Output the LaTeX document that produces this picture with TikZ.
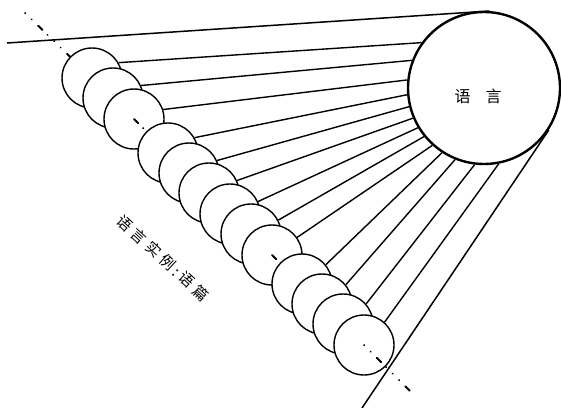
\documentclass[tikz,border=0pt]{standalone}
\usepackage{fontspec}
\newfontfamily\cjk{Noto Sans CJK SC}
\tikzset{
  circulo/.style={circle,draw=black,fill=white,line width=1.4pt,inner sep=0pt,minimum size=60pt},
  lengua/.style={circle,draw=black,fill=white,line width=2.4pt,inner sep=0pt,minimum size=152pt},
  rayo/.style={draw=black,line width=1.4pt},
  tangente/.style={draw=black,line width=1.5pt},
  eje/.style={draw=black,line width=2pt,line cap=round,dash pattern=on 6pt off 7pt on 0.1pt off 9pt on 0.1pt off 9pt on 0.1pt off 9pt,dash phase=22pt},
  rotulo/.style={font=\cjk\fontsize{15}{17}\selectfont,inner sep=0pt},
}
\begin{document}
\begin{tikzpicture}[x=1pt,y=-1pt]
\useasboundingbox (0,0) rectangle (561,407);
\coordinate (e1) at (25,13);
\coordinate (e2) at (410,391);
\coordinate (t1) at (7,43);
\coordinate (t2) at (362,408);
\coordinate (p1) at (92,78);
\coordinate (p2) at (113,98);
\coordinate (p3) at (134,119);
\coordinate (p4) at (168,153);
\coordinate (p5) at (189,173);
\coordinate (p6) at (209,193);
\coordinate (p7) at (230,214);
\coordinate (p8) at (251,234);
\coordinate (p9) at (272,255);
\coordinate (p10) at (302,284);
\coordinate (p11) at (322,304);
\coordinate (p12) at (343,324);
\coordinate (p13) at (364,345);
% la lengua
\node[lengua] (len) at (484,88) {};
\node[rotulo,font=\cjk\fontsize{16}{18}\selectfont] (lentxt) at (478,96) {语\kern15pt 言};
\draw[tangente] (t1) -- (len.86);
\draw[tangente] (t2) -- (len.-33);
% eje de los textos
\draw[eje] (e1) -- (p1);
\node[circulo] (c1) at (p1) {};
\node[circulo] (c2) at (p2) {};
\node[circulo] (c3) at (p3) {};
\node[circulo] (c4) at (p4) {};
\node[circulo] (c5) at (p5) {};
\node[circulo] (c6) at (p6) {};
\node[circulo] (c7) at (p7) {};
\node[circulo] (c8) at (p8) {};
\node[circulo] (c9) at (p9) {};
\node[circulo] (c10) at (p10) {};
\node[circulo] (c11) at (p11) {};
\node[circulo] (c12) at (p12) {};
\node[circulo] (c13) at (p13) {};
\draw[eje,dash phase=0pt] (p3) -- ++(10,10);
\draw[eje,dash phase=0pt] (p9) -- ++(4.5,4.5);
\draw[eje] (p13) -- (e2);
% rayos
\draw[rayo] (c1.30) -- (len.144);
\draw[rayo] (c2.24) -- (len.159);
\draw[rayo] (c3.18) -- (len.174);
\draw[rayo] (c4.30) -- (len.185);
\draw[rayo] (c5.24) -- (len.194);
\draw[rayo] (c6.24) -- (len.203);
\draw[rayo] (c7.24) -- (len.211);
\draw[rayo] (c8.27) -- (len.219);
\draw[rayo] (c9.35) -- (len.228);
\draw[rayo] (c10.39) -- (len.237);
\draw[rayo] (c11.39) -- (len.248);
\draw[rayo] (c12.41) -- (len.263);
\draw[rayo] (c13.48) -- (len.281);
\node[rotulo,rotate=-42.5] (ejetxt) at (163,258) {语\kern4.5pt 言\kern4.5pt 实\kern4.5pt 例\kern3pt :\kern3pt 语\kern4.5pt 篇};
\end{tikzpicture}
\end{document}
